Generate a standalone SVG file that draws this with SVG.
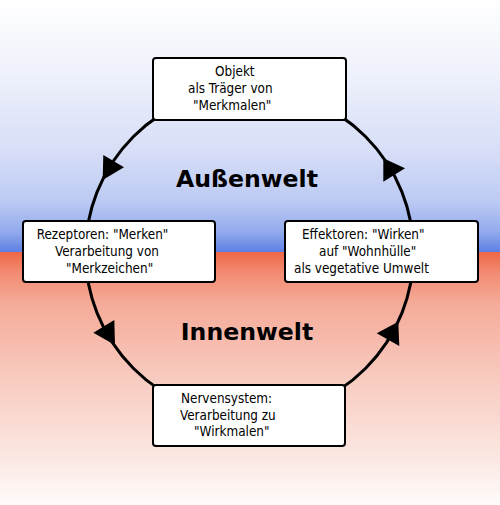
<svg xmlns="http://www.w3.org/2000/svg" width="500" height="505" viewBox="0 0 500 505">
<defs>
<linearGradient id="sky" x1="0" y1="0" x2="0" y2="252" gradientUnits="userSpaceOnUse">
<stop offset="0" stop-color="#ffffff"/>
<stop offset="0.3" stop-color="#eef1fb"/>
<stop offset="0.6" stop-color="#d7def7"/>
<stop offset="0.8" stop-color="#bccaf3"/>
<stop offset="0.92" stop-color="#93abed"/>
<stop offset="1" stop-color="#5b7fe3"/>
</linearGradient>
<linearGradient id="body" x1="0" y1="252" x2="0" y2="505" gradientUnits="userSpaceOnUse">
<stop offset="0" stop-color="#ee6645"/>
<stop offset="0.08" stop-color="#f28b71"/>
<stop offset="0.2" stop-color="#f5aa98"/>
<stop offset="0.5" stop-color="#f8cbc0"/>
<stop offset="0.8" stop-color="#fbe6e0"/>
<stop offset="1" stop-color="#fffcfb"/>
</linearGradient>
<style>
.box{fill:#fff;stroke:#000;stroke-width:2}
.t{font-family:"DejaVu Sans Condensed","DejaVu Sans",sans-serif;font-size:13.4px;fill:#000}
.title{font-family:"DejaVu Sans",sans-serif;font-weight:bold;font-size:23.6px;fill:#000;text-anchor:middle}
.ring{fill:none;stroke:#000;stroke-width:3}
.arr{fill:#000}
</style>
</defs>
<rect x="0" y="0" width="500" height="252" fill="url(#sky)"/>
<rect x="0" y="252" width="500" height="253" fill="url(#body)"/>
<text class="title" x="247" y="187">Außenwelt</text>
<text class="title" x="247" y="340">Innenwelt</text>
<g id="connectors">
<circle class="ring" cx="249.5" cy="252.5" r="164"/>
<polygon class="arr" points="103.3,155 124,167.3 102.7,180"/>
<polygon class="arr" points="93.3,332.7 114.3,320 115,345"/>
<polygon class="arr" points="376.7,333.3 398.3,321.7 399.3,346"/>
<polygon class="arr" points="383.3,158.3 405,168.3 383.3,181.7"/>
</g>
<g id="objekt">
<rect class="box" x="153" y="58" width="193" height="62" rx="3"/>
<text class="t"><tspan x="215" y="76">Objekt</tspan><tspan x="188" y="93">als Träger von</tspan><tspan x="193" y="110">"Merkmalen"</tspan></text>
</g>
<g id="rezeptoren">
<rect class="box" x="23" y="221" width="192" height="61" rx="3"/>
<text class="t"><tspan x="36.7" y="239">Rezeptoren: "Merken"</tspan><tspan x="55" y="256">Verarbeitung von</tspan><tspan x="66" y="273">"Merkzeichen"</tspan></text>
</g>
<g id="effektoren">
<rect class="box" x="285" y="221" width="193" height="61" rx="3"/>
<text class="t"><tspan x="302" y="239">Effektoren: "Wirken"</tspan><tspan x="319" y="256">auf "Wohnhülle"</tspan><tspan x="294" y="273">als vegetative Umwelt</tspan></text>
</g>
<g id="nervensystem">
<rect class="box" x="153" y="385" width="192" height="61" rx="3"/>
<text class="t"><tspan x="181" y="403">Nervensystem:</tspan><tspan x="180" y="419.5">Verarbeitung zu</tspan><tspan x="194" y="436">"Wirkmalen"</tspan></text>
</g>
</svg>
